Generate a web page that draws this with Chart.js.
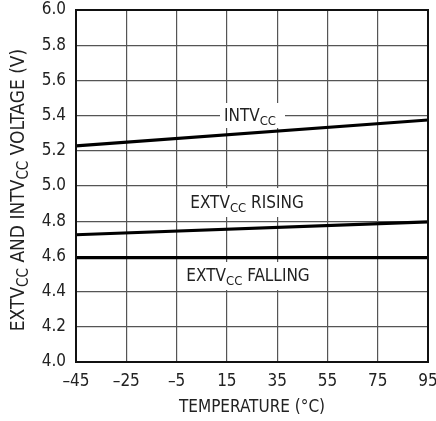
<!DOCTYPE html>
<html>
<head>
<meta charset="utf-8">
<script src="https://cdn.jsdelivr.net/npm/chart.js@4"></script>
<style>
  html, body { margin: 0; padding: 0; background: #fff; }
  #wrap { width: 436px; height: 421px; }
</style>
</head>
<body>
<div id="wrap"><canvas id="chart" width="436" height="421"></canvas></div>
<script>
// data
const temps      = [-45, 95];
const intvcc     = [5.228, 5.375];
const extRising  = [4.723, 4.796];
const extFalling = [4.593, 4.593];

const xTicks = [-45, -25, -5, 15, 35, 55, 75, 95];
const yTicks = [4.0, 4.2, 4.4, 4.6, 4.8, 5.0, 5.2, 5.4, 5.6, 5.8, 6.0];

const FONT = "'Liberation Sans Narrow', 'DejaVu Sans Condensed', 'Liberation Sans', sans-serif";

// draws text made of pieces, some of them subscript
function drawSub(ctx, parts, x, y, size) {
    const subSize = Math.round(size * 0.78);
    let w = 0;
    parts.forEach(p => {
        ctx.font = (p.sub ? subSize : size) + 'px ' + FONT;
        p.w = ctx.measureText(p.t).width;
        w += p.w;
    });
    let cx = x - w / 2;
    ctx.textAlign = 'left';
    ctx.textBaseline = 'middle';
    parts.forEach(p => {
        ctx.font = (p.sub ? subSize : size) + 'px ' + FONT;
        ctx.fillText(p.t, cx, p.sub ? y + size * 0.28 : y);
        cx += p.w;
    });
    return w;
}

const labels = [
    { parts: [{t: 'INTV'}, {t: 'CC', sub: true}], x: 250, y: 117, box: [220, 103, 65, 25] },
    { parts: [{t: 'EXTV'}, {t: 'CC', sub: true}, {t: ' RISING'}], x: 247, y: 204, box: [178, 188, 138, 29] },
    { parts: [{t: 'EXTV'}, {t: 'CC', sub: true}, {t: ' FALLING'}], x: 248, y: 277, box: [178, 262, 142, 28] }
];

const decor = {
    id: 'decor',
    beforeDatasetsDraw(chart) {
        const ctx = chart.ctx;
        ctx.save();
        // white patches behind the line labels
        ctx.fillStyle = '#fff';
        labels.forEach(l => ctx.fillRect(l.box[0], l.box[1], l.box[2], l.box[3]));
        ctx.fillStyle = '#222';
        labels.forEach(l => drawSub(ctx, l.parts, l.x, l.y, 17));
        ctx.restore();
    },
    afterDraw(chart) {
        const ctx = chart.ctx;
        const a = chart.chartArea;
        ctx.save();
        // frame
        ctx.strokeStyle = '#111';
        ctx.lineWidth = 2;
        ctx.strokeRect(a.left, a.top, a.right - a.left, a.bottom - a.top);
        // axis titles
        ctx.fillStyle = '#222';
        ctx.font = '17px ' + FONT;
        ctx.textAlign = 'center';
        ctx.textBaseline = 'middle';
        ctx.fillText('TEMPERATURE (°C)', (a.left + a.right) / 2, 408);
        ctx.translate(19, 190);
        ctx.rotate(-Math.PI / 2);
        drawSub(ctx, [{t: 'EXTV'}, {t: 'CC', sub: true}, {t: ' AND INTV'}, {t: 'CC', sub: true}, {t: ' VOLTAGE (V)'}], 0, 0, 19);
        ctx.restore();
    }
};

const lineStyle = {
    borderColor: '#000',
    borderWidth: 3.2,
    pointRadius: 0,
    tension: 0,
    fill: false
};

new Chart(document.getElementById('chart').getContext('2d'), {
    type: 'line',
    data: {
        datasets: [
            { label: 'INTVCC', data: temps.map((t, i) => ({x: t, y: intvcc[i]})), ...lineStyle },
            { label: 'EXTVCC RISING', data: temps.map((t, i) => ({x: t, y: extRising[i]})), ...lineStyle },
            { label: 'EXTVCC FALLING', data: temps.map((t, i) => ({x: t, y: extFalling[i]})), ...lineStyle }
        ]
    },
    options: {
        responsive: false,
        animation: false,
        layout: { padding: 0 },
        plugins: { legend: { display: false }, tooltip: { enabled: false } },
        scales: {
            x: {
                type: 'linear',
                min: -45,
                max: 95,
                afterBuildTicks: s => { s.ticks = xTicks.map(v => ({value: v})); },
                afterFit: s => { s.height = 59; s.paddingRight = 8; s.paddingLeft = 0; },
                grid: { color: '#555', lineWidth: 1.2, drawTicks: false },
                border: { display: false },
                ticks: {
                    padding: 9,
                    color: '#222',
                    font: { family: FONT, size: 17 },
                    maxRotation: 0,
                    autoSkip: false,
                    callback: v => v < 0 ? '\u2013' + Math.abs(v) : String(v)
                }
            },
            y: {
                min: 4.0,
                max: 6.0,
                afterBuildTicks: s => { s.ticks = yTicks.map(v => ({value: v})); },
                afterFit: s => { s.width = 76; s.paddingTop = 10; s.paddingBottom = 0; },
                grid: { color: '#555', lineWidth: 1.2, drawTicks: false },
                border: { display: false },
                ticks: {
                    padding: 10,
                    color: '#222',
                    font: { family: FONT, size: 17 },
                    autoSkip: false,
                    callback: v => Number(v).toFixed(1)
                }
            }
        }
    },
    plugins: [decor]
});
</script>
</body>
</html>
